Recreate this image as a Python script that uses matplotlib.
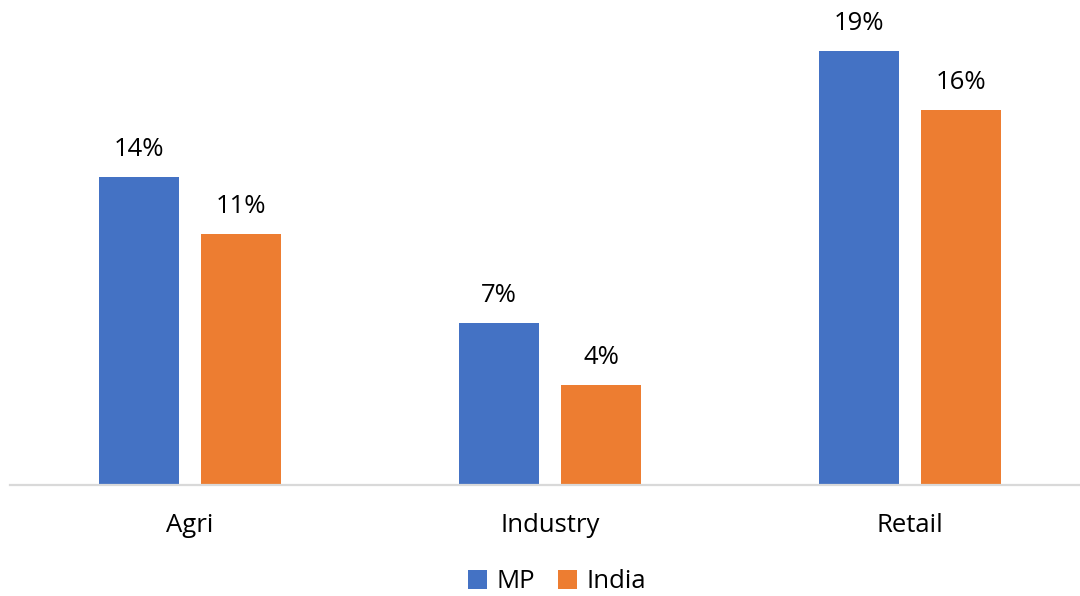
import matplotlib
matplotlib.use("Agg")
import matplotlib.pyplot as plt
import numpy as np

categories = ["Agri", "Industry", "Retail"]
mp_values = [13.5, 7.1, 19.0]
india_values = [11.0, 4.4, 16.4]
series_names = ["MP", "India"]

plt.rcParams['font.family'] = ['Open Sans', 'DejaVu Sans']

W, H = 1080, 596
fig = plt.figure(figsize=(W / 100, H / 100), dpi=100)
# axes: left at x=10px, category spacing 360 px, baseline at y=485px from top
ax = fig.add_axes([10 / W, (H - 485) / H, 1080 / W, 485 / H])
ax.set_xlim(-0.5, 2.5)
ax.set_ylim(0, 485 / 22.84)

x = np.arange(len(categories))
bw = 80 / 360
off = 51 / 360
blue = "#4472C4"
orange = "#ED7D31"
b1 = ax.bar(x - off, mp_values, bw, color=blue, label=series_names[0], zorder=2)
b2 = ax.bar(x + off, india_values, bw, color=orange, label=series_names[1], zorder=2)

for bars, vals in ((b1, mp_values), (b2, india_values)):
    for rect, v in zip(bars, vals):
        ax.annotate(f"{v:.0f}%", (rect.get_x() + rect.get_width() / 2, v),
                    xytext=(0, 15), textcoords="offset pixels",
                    ha="center", va="bottom", fontsize=18.5, color="#000000")

for s in ["top", "right", "left"]:
    ax.spines[s].set_visible(False)
ax.spines["bottom"].set_color("#d9d9d9")
ax.spines["bottom"].set_linewidth(1.6)
ax.set_yticks([])
ax.set_xticks(x)
ax.set_xticklabels(categories, fontsize=18.5)
ax.tick_params(axis="x", length=0, pad=20)

fig.legend(loc="center", bbox_to_anchor=(557 / W, (H - 582) / H), ncol=2,
           frameon=False, fontsize=18.5, handlelength=0.75, handleheight=0.75,
           handletextpad=0.35, columnspacing=0.9)

fig.savefig("out.png", dpi=100)
